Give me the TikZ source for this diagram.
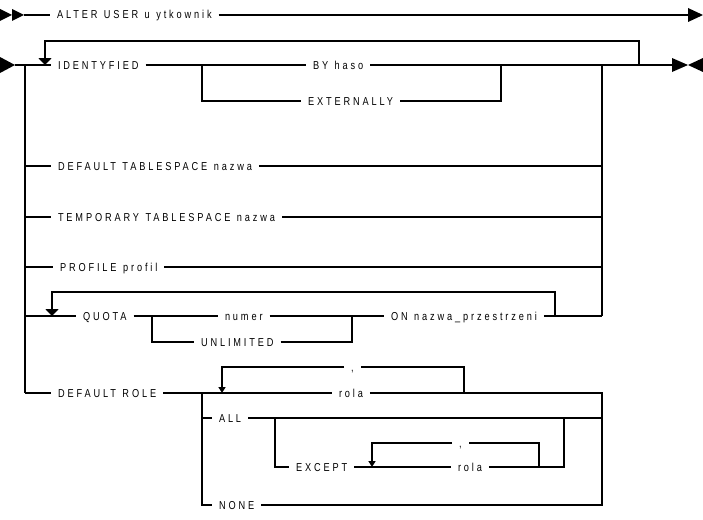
\documentclass[tikz,border=0pt]{standalone}
\usepackage{fontspec}
\setmainfont{Liberation Sans}[FakeStretch=0.8,LetterSpace=25,WordSpace=1.2]
\usetikzlibrary{arrows.meta}

\begin{document}
\begin{tikzpicture}[x=1pt,y=-1pt,line width=2pt,
  kw/.style={anchor=west,inner xsep=6pt,inner ysep=0pt,text height=8pt,text depth=0pt,font=\fontsize{11.5}{11.5}\selectfont},
  back/.style={-{Triangle[length=7pt,width=13pt]}},
  backsmall/.style={-{Triangle[length=6pt,width=7pt]}}]
\useasboundingbox (0,0) rectangle (703,519);

\coordinate (in1) at (24,15);
\coordinate (out1) at (688,15);
\coordinate (in2) at (15,65);
\coordinate (out2) at (672,65);
\coordinate (L) at (25,65);
\coordinate (R) at (602,65);
\coordinate (b1) at (202,65);
\coordinate (m1) at (501,65);
\coordinate (b2) at (152,316);
\coordinate (m2) at (352,316);
\coordinate (q1) at (555,316);
\coordinate (q2) at (52,316);
\coordinate (b3) at (202,393);
\coordinate (R2) at (602,393);
\coordinate (b4) at (275,418);
\coordinate (m4) at (564,418);

\node[kw] (alter) at (50,15) {ALTER USER u ytkownik};
\node[kw] (ident) at (51,65) {IDENTYFIED};
\node[kw] (by) at (306,65) {BY haso};
\node[kw] (ext) at (301,101) {EXTERNALLY};
\node[kw] (dts) at (51,166) {DEFAULT TABLESPACE nazwa};
\node[kw] (tts) at (51,217) {TEMPORARY TABLESPACE nazwa};
\node[kw] (prof) at (53,267) {PROFILE profil};
\node[kw] (quota) at (76,316) {QUOTA};
\node[kw] (numer) at (218,316) {numer};
\node[kw] (unlim) at (194,342) {UNLIMITED};
\node[kw] (on) at (384,316) {ON nazwa\_przestrzeni};
\node[kw] (drole) at (51,393) {DEFAULT ROLE};
\node[kw] (rola) at (332,393) {rola};
\node[kw] (sep1) at (344,367) {,};
\node[kw] (all) at (212,418) {ALL};
\node[kw] (except) at (289,467) {EXCEPT};
\node[kw] (rola2) at (451,467) {rola};
\node[kw] (sep2) at (452,443) {,};
\node[kw] (none) at (212,505) {NONE};

% first statement
\fill (0,9) -- (12,15) -- (0,21) -- cycle;
\fill (12,9) -- (24,15) -- (12,21) -- cycle;
\draw (in1) -- (alter.west);
\draw (alter.east) -- (out1);
\fill (688,8) -- (703,15) -- (688,22) -- cycle;

% options
\fill (0,57) -- (15,65) -- (0,73) -- cycle;
\draw (in2) -- (ident.west);
\draw[back] (639,65) -- (639,41) -- (45,41) -- (45,65);
\draw (ident.east) -- (by.west);
\draw (by.east) -- (out2);
\fill (672,58) -- (688,65) -- (672,72) -- cycle;
\fill (703,58) -- (688,65) -- (703,72) -- cycle;
\draw (b1) |- (ext.west);
\draw (ext.east) -| (m1);
\draw (L) -- (L |- drole.west);
\draw (R) -- (R |- on.east);

\draw (L |- dts.west) -- (dts.west);
\draw (dts.east) -- (R |- dts.east);
\draw (L |- tts.west) -- (tts.west);
\draw (tts.east) -- (R |- tts.east);
\draw (L |- prof.west) -- (prof.west);
\draw (prof.east) -- (R |- prof.east);

% quota
\draw (L |- quota.west) -- (quota.west);
\draw[back] (q1) -- ++(0,-24) -| (q2);
\draw (quota.east) -- (numer.west);
\draw (numer.east) -- (on.west);
\draw (b2) |- (unlim.west);
\draw (unlim.east) -| (m2);
\draw (on.east) -- (R |- on.east);

% roles
\draw (L |- drole.west) -- (drole.west);
\draw (drole.east) -- (rola.west);
\draw (464,393) |- (sep1.east);
\draw[backsmall] (sep1.west) -| (222,393);
\draw (rola.east) -- (R2) |- (none.east);
\draw (b3) |- (none.west);
\draw (b3 |- all.west) -- (all.west);
\draw (all.east) -- (R2 |- all.east);
\draw (b4) |- (except.west);
\draw (except.east) -- (rola2.west);
\draw (rola2.east) -| (m4);
\draw (539,467) |- (sep2.east);
\draw[backsmall] (sep2.west) -| (372,467);
\end{tikzpicture}
\end{document}
